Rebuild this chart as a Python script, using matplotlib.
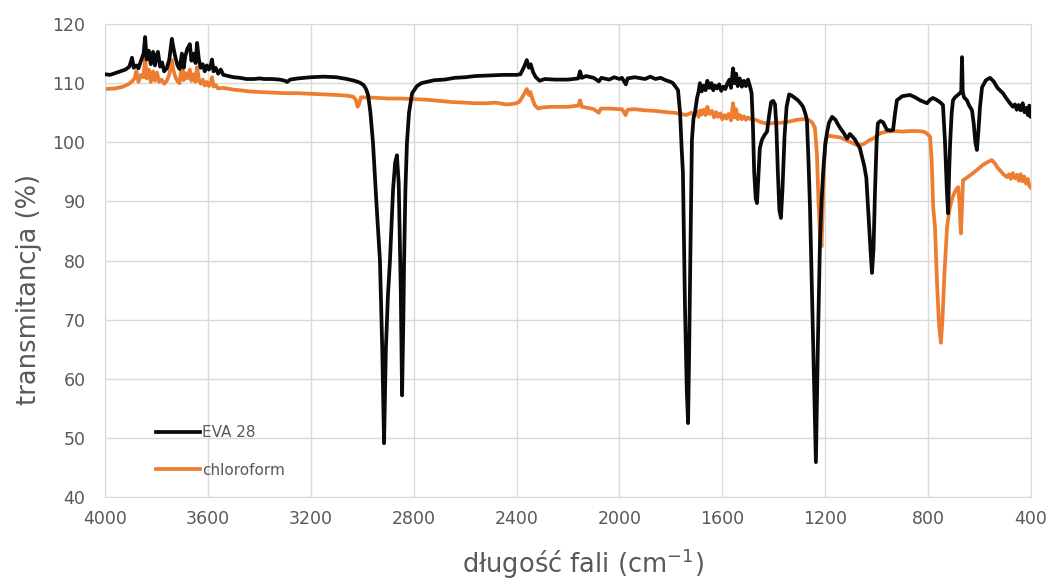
import matplotlib.pyplot as plt
import numpy as np

# widmo EVA 28 (liczba falowa cm-1, transmitancja %)
eva_wn = [4000, 3980, 3960, 3940, 3920, 3905, 3895, 3888, 3878, 3870, 3860, 3850, 3844, 3838,
          3830, 3822, 3813, 3806, 3800, 3794, 3786, 3778, 3770, 3760, 3750, 3740, 3734, 3726,
          3718, 3710, 3701, 3694, 3688, 3680, 3670, 3664, 3656, 3648, 3642, 3635, 3628, 3620,
          3612, 3604, 3596, 3590, 3584, 3578, 3570, 3560, 3550, 3540, 3520, 3500, 3475, 3450,
          3420, 3400, 3380, 3350, 3320, 3300, 3292, 3280, 3250, 3200, 3150, 3100, 3060, 3030,
          3010, 2995, 2985, 2977, 2968, 2958, 2945, 2931, 2922, 2915, 2908, 2900, 2892, 2880,
          2872, 2865, 2858, 2850, 2845, 2840, 2837, 2832, 2826, 2818, 2806, 2787, 2770, 2750,
          2720, 2680, 2640, 2600, 2560, 2500, 2450, 2400, 2385, 2370, 2360, 2352, 2345, 2335,
          2325, 2310, 2290, 2250, 2200, 2160, 2153, 2146, 2130, 2100, 2080, 2070, 2040, 2020,
          2000, 1990, 1975, 1968, 1940, 1900, 1880, 1860, 1840, 1820, 1800, 1792, 1780, 1772,
          1764, 1758, 1753, 1745, 1738, 1733, 1729, 1725, 1718, 1712, 1706, 1698, 1692, 1687,
          1680, 1672, 1665, 1658, 1650, 1642, 1635, 1628, 1620, 1612, 1604, 1596, 1588, 1580,
          1572, 1566, 1558, 1552, 1546, 1540, 1532, 1524, 1516, 1508, 1500, 1492, 1486, 1481,
          1476, 1470, 1465, 1460, 1454, 1446, 1436, 1426, 1418, 1410, 1402, 1395, 1390, 1384,
          1378, 1372, 1366, 1358, 1350, 1340, 1330, 1318, 1306, 1294, 1286, 1278, 1271, 1265,
          1259, 1253, 1247, 1241, 1236, 1232, 1228, 1224, 1220, 1214, 1208, 1200, 1193, 1185,
          1173, 1160, 1150, 1140, 1128, 1115, 1104, 1095, 1085, 1065, 1048, 1040, 1032, 1024,
          1018, 1012, 1006, 1000, 995, 985, 975, 960, 945, 936, 928, 921, 900, 870,
          850, 831, 815, 804, 792, 781, 768, 754, 742, 734, 727, 722, 718, 714,
          708, 703, 695, 684, 676, 671, 668, 665, 660, 649, 640, 629, 622, 616,
          610, 604, 598, 590, 575, 559, 545, 530, 509, 495, 485, 470, 462, 455,
          448, 440, 432, 425, 418, 412, 406, 402, 400]
eva_t = [111.5, 111.4, 111.7, 112.0, 112.3, 112.8, 114.3, 112.6, 113.0, 112.5, 113.8, 115.0, 117.8, 114.0,
         115.5, 113.2, 115.3, 113.0, 114.6, 115.3, 112.8, 113.5, 112.0, 112.5, 114.0, 117.5, 116.0, 114.3,
         113.0, 112.4, 115.0, 112.6, 114.5, 115.8, 116.6, 113.8, 115.0, 113.4, 116.8, 114.0, 112.6, 113.2,
         112.0, 113.0, 112.3, 112.8, 114.0, 112.0, 112.6, 111.6, 112.3, 111.4, 111.2, 111.0, 110.9, 110.7,
         110.7, 110.8, 110.7, 110.7, 110.6, 110.4, 110.2, 110.6, 110.8, 111.0, 111.1, 111.0, 110.7, 110.4,
         110.1, 109.7, 109.0, 108.0, 105.0, 99.9, 90.0, 80.0, 65.0, 49.1, 65.0, 74.0, 80.0, 92.0,
         96.5, 97.8, 93.0, 75.0, 57.2, 70.0, 80.0, 92.0, 99.9, 105.0, 108.3, 109.5, 110.0, 110.2,
         110.5, 110.6, 110.9, 111.0, 111.2, 111.3, 111.4, 111.4, 111.5, 112.8, 113.9, 112.6, 113.2, 111.8,
         111.0, 110.4, 110.7, 110.6, 110.6, 110.8, 112.0, 110.9, 111.2, 110.9, 110.3, 110.9, 110.6, 111.0,
         110.7, 110.9, 109.8, 110.8, 111.0, 110.7, 111.1, 110.7, 110.9, 110.5, 110.2, 110.0, 109.3, 108.8,
         104.9, 99.0, 94.8, 72.1, 58.0, 52.5, 64.0, 77.9, 100.4, 104.0, 105.1, 107.5, 108.6, 110.0,
         108.6, 109.6, 108.8, 110.4, 109.2, 110.0, 108.8, 109.6, 109.1, 109.8, 108.7, 109.4, 109.0, 110.0,
         110.6, 109.2, 112.5, 110.0, 111.6, 109.5, 110.8, 109.4, 110.4, 109.5, 110.6, 109.4, 108.3, 103.0,
         95.0, 90.5, 89.7, 94.0, 99.0, 100.4, 101.2, 101.8, 104.5, 106.8, 107.0, 106.4, 103.0, 95.0,
         88.5, 87.2, 92.0, 101.0, 106.0, 108.1, 107.9, 107.5, 107.1, 106.5, 106.0, 105.0, 103.8, 97.0,
         89.0, 78.0, 66.6, 55.0, 45.9, 56.0, 66.6, 75.0, 83.5, 90.0, 94.8, 99.5, 101.6, 103.3,
         104.3, 103.8, 103.0, 102.3, 101.6, 100.6, 101.4, 101.0, 100.5, 99.0, 96.0, 94.0, 88.0, 82.0,
         77.9, 82.0, 92.0, 100.0, 103.2, 103.6, 103.4, 102.1, 102.0, 102.1, 105.0, 107.1, 107.8, 108.0,
         107.6, 107.1, 106.8, 106.6, 107.2, 107.5, 107.2, 106.8, 106.3, 100.0, 92.0, 88.0, 95.0, 100.0,
         105.0, 107.1, 107.6, 108.0, 108.3, 108.6, 114.4, 108.5, 107.6, 107.1, 106.2, 105.4, 103.0, 100.0,
         98.7, 102.0, 106.0, 109.3, 110.5, 110.9, 110.3, 109.2, 108.3, 107.4, 106.8, 106.0, 106.4, 105.5,
         106.3, 105.4, 106.6, 105.1, 105.8, 104.6, 106.2, 104.3, 104.8]

# widmo chloroformu
chl_wn = [4000, 3960, 3930, 3910, 3895, 3885, 3878, 3870, 3860, 3850, 3844, 3838, 3830, 3822,
          3813, 3806, 3798, 3790, 3780, 3770, 3760, 3750, 3740, 3734, 3726, 3718, 3710, 3701,
          3694, 3688, 3680, 3670, 3664, 3656, 3648, 3642, 3635, 3628, 3620, 3612, 3604, 3596,
          3590, 3584, 3578, 3570, 3560, 3540, 3500, 3475, 3440, 3400, 3350, 3300, 3250, 3200,
          3150, 3100, 3060, 3035, 3025, 3018, 3012, 3005, 2980, 2940, 2900, 2850, 2800, 2750,
          2700, 2650, 2600, 2560, 2520, 2480, 2440, 2410, 2390, 2375, 2360, 2352, 2346, 2338,
          2328, 2315, 2300, 2260, 2200, 2160, 2153, 2146, 2120, 2100, 2080, 2072, 2040, 2000,
          1990, 1976, 1968, 1940, 1900, 1860, 1820, 1790, 1760, 1740, 1720, 1710, 1700, 1692,
          1686, 1680, 1672, 1665, 1658, 1650, 1640, 1632, 1624, 1616, 1608, 1600, 1592, 1584,
          1576, 1566, 1558, 1552, 1546, 1540, 1532, 1524, 1516, 1508, 1500, 1490, 1470, 1450,
          1430, 1410, 1390, 1370, 1350, 1330, 1310, 1290, 1270, 1258, 1250, 1240, 1232, 1226,
          1220, 1214, 1210, 1205, 1198, 1188, 1170, 1140, 1120, 1100, 1080, 1065, 1050, 1030,
          1010, 995, 980, 960, 930, 900, 870, 840, 820, 812, 800, 792, 786, 780,
          773, 765, 757, 750, 744, 736, 726, 716, 706, 696, 688, 683, 678, 674,
          672, 669, 664, 656, 640, 625, 605, 586, 570, 552, 540, 528, 515, 505,
          493, 485, 478, 470, 462, 454, 447, 440, 433, 426, 419, 412, 406, 400]
chl_t = [109.0, 109.1, 109.4, 109.8, 110.3, 110.8, 112.0, 110.2, 111.4, 111.0, 114.4, 110.8, 112.3, 110.2,
         112.0, 110.4, 111.8, 110.2, 110.6, 109.9, 110.4, 111.5, 113.9, 112.2, 111.0, 110.3, 110.0, 113.4,
         110.5, 111.7, 110.8, 112.3, 110.4, 111.5, 110.2, 112.7, 110.6, 109.9, 110.6, 109.6, 110.2, 109.5,
         109.9, 111.0, 109.4, 109.7, 109.1, 109.2, 108.9, 108.8, 108.6, 108.5, 108.4, 108.3, 108.3, 108.2,
         108.1, 108.0, 107.9, 107.7, 107.2, 106.0, 106.5, 107.6, 107.6, 107.5, 107.4, 107.4, 107.3, 107.2,
         107.0, 106.8, 106.7, 106.6, 106.6, 106.7, 106.4, 106.5, 106.8, 107.8, 109.0, 108.0, 108.5, 107.3,
         106.2, 105.7, 105.9, 106.0, 106.0, 106.2, 107.1, 106.0, 105.8, 105.6, 105.0, 105.7, 105.7, 105.6,
         105.6, 104.6, 105.5, 105.6, 105.4, 105.3, 105.1, 105.0, 104.8, 104.6, 105.0, 104.5, 105.2, 104.3,
         105.4, 104.7, 105.5, 104.6, 106.0, 104.8, 105.3, 104.2, 105.1, 104.3, 104.9, 103.9, 104.6, 104.0,
         104.8, 103.7, 106.6, 104.2, 105.6, 103.9, 104.6, 103.9, 104.4, 103.8, 104.2, 103.9, 103.8, 103.4,
         103.2, 103.2, 103.3, 103.3, 103.4, 103.6, 103.8, 103.9, 103.9, 103.6, 103.3, 102.5, 98.0, 90.0,
         84.0, 82.4, 88.0, 96.0, 100.5, 101.1, 101.0, 100.8, 100.4, 100.0, 99.6, 99.5, 99.7, 100.3,
         100.7, 101.3, 101.6, 101.8, 101.9, 101.8, 101.9, 101.9, 101.8, 101.7, 101.3, 100.9, 97.0, 89.0,
         85.7, 76.0, 69.0, 66.1, 70.0, 78.0, 85.7, 88.8, 90.5, 91.6, 92.2, 92.4, 90.0, 86.0,
         84.6, 88.0, 93.6, 93.8, 94.3, 94.8, 95.5, 96.2, 96.6, 97.0, 96.4, 95.6, 95.0, 94.5,
         94.1, 94.6, 93.8, 94.8, 93.9, 94.5, 93.5, 94.6, 93.4, 94.2, 93.0, 93.8, 92.6, 92.3]

grey = '#595959'
plt.rcParams['mathtext.default'] = 'regular'

fig = plt.figure(figsize=(10.51, 5.83), dpi=100)
ax = fig.add_axes([0.0999, 0.1475, 0.881, 0.8113])

ax.plot(eva_wn, eva_t, color='#0a0a0a', lw=2.7, label='EVA 28', zorder=3)
ax.plot(chl_wn, chl_t, color='#ED7D31', lw=2.7, label='chloroform', zorder=2)

ax.set_xlim(4000, 400)
ax.set_ylim(40, 120)
ax.set_xticks(np.arange(4000, 399, -400))
ax.set_yticks(np.arange(40, 121, 10))
ax.grid(True, color='#d9d9d9', lw=1)
ax.set_axisbelow(True)
for s in ax.spines.values():
    s.set_color('#d9d9d9')
ax.tick_params(length=0, labelsize=12.5, colors=grey)
ax.tick_params(axis='x', pad=9)
ax.tick_params(axis='y', pad=14)

ax.set_xlabel('długość fali (cm$^{-1}$)', fontsize=18.5, color=grey)
ax.set_ylabel('transmitancja (%)', fontsize=18.5, color=grey)
ax.xaxis.set_label_coords(0.516, -0.105)
ax.yaxis.set_label_coords(-0.068, 0.438)

leg = ax.legend(loc='lower left', bbox_to_anchor=(0.04, 0.012), frameon=False,
                handlelength=2.9, handletextpad=0.15, labelspacing=1.45, fontsize=11)
for t in leg.get_texts():
    t.set_color(grey)

plt.savefig('out.png', dpi=100)
